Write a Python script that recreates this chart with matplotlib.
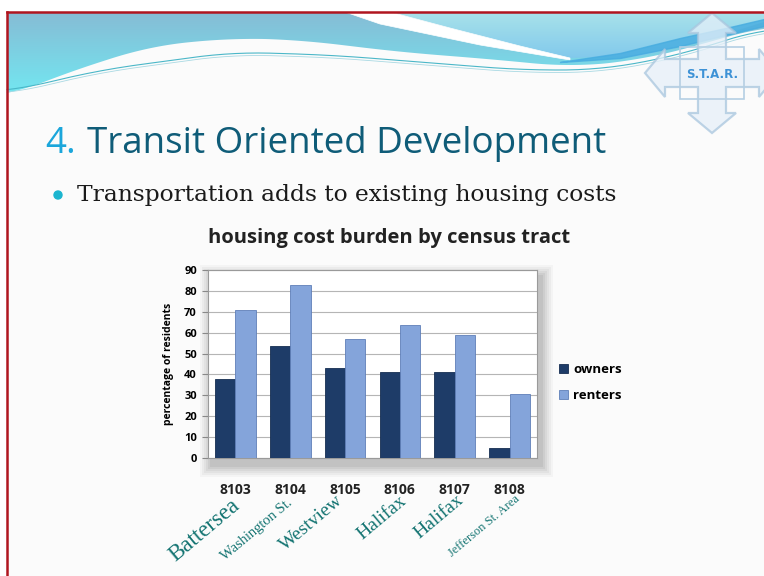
import numpy as np
import matplotlib
matplotlib.use("Agg")
import matplotlib.pyplot as plt
from matplotlib.patches import Polygon, Rectangle

tracts = ["8103", "8104", "8105", "8106", "8107", "8108"]
neighborhoods = ["Battersea", "Washington St.", "Westview", "Halifax", "Halifax", "Jefferson St. Area"]
owners = [38, 53.5, 43, 41, 41, 5]
renters = [71, 83, 57, 63.5, 59, 30.5]
yticks = [0, 10, 20, 30, 40, 50, 60, 70, 80, 90]

W, H = 764, 576
fig = plt.figure(figsize=(7.64, 5.76), dpi=100)
fig.patch.set_facecolor("white")

# ---- decoration layer (pixel coords) ----
bg = fig.add_axes([0, 0, 1, 1])
bg.set_xlim(0, W)
bg.set_ylim(H, 0)
bg.axis("off")
bg.add_patch(Rectangle((7, 12), W, H, facecolor="#fbfbfb", edgecolor="none", zorder=0))


def smooth(px, py, n=200):
    px = np.asarray(px, float)
    py = np.asarray(py, float)
    xs = np.linspace(px[0], px[-1], n)
    return xs, np.interp(xs, px, py)


def grad_fill(poly_x, poly_y, top_col, bot_col, z, x0=7, x1=W, y0=12, y1=100):
    poly = Polygon(np.column_stack([poly_x, poly_y]), closed=True, facecolor="none",
                   edgecolor="none", zorder=z)
    bg.add_patch(poly)
    c0 = np.array(matplotlib.colors.to_rgb(top_col))
    c1 = np.array(matplotlib.colors.to_rgb(bot_col))
    t = np.linspace(0, 1, 64)
    img = (c0[None, :] * (1 - t[:, None]) + c1[None, :] * t[:, None])[:, None, :]
    im = bg.imshow(img, extent=(x0, x1, y1, y0), aspect="auto", zorder=z,
                   interpolation="bilinear")
    im.set_clip_path(poly)


# left / main wave
lx, ly = smooth([7, 60, 150, 233, 300, 400, 500, 570, 640, 700, W],
                [97, 75, 46, 38, 40, 52, 60, 67, 60, 45, 26])
ly = np.convolve(np.pad(ly, 10, mode="edge"), np.ones(21) / 21, mode="valid")
px = np.concatenate([[7], lx, [W]])
py = np.concatenate([[12], ly, [12]])
grad_fill(px, py, "#86bcd5", "#72e8f2", 1, y0=12, y1=97)

# top-right light region above white streak
ux, uy = smooth([390, 450, 520, 570, 640, 700, W], [12, 28, 46, 58, 56, 42, 22])
px = np.concatenate([ux, [W]])
py = np.concatenate([uy, [12]])
grad_fill(px, py, "#a8e2ea", "#80c8ec", 3, y0=12, y1=60)

# white streak (wedge)
sx1, sy1 = smooth([345, 380, 480, 570], [12, 24, 45, 60])
sx2, sy2 = smooth([390, 450, 520, 570], [12, 28, 46, 58])
wx = np.concatenate([sx1, sx2[::-1]])
wy = np.concatenate([sy1, sy2[::-1]])
bg.add_patch(Polygon(np.column_stack([wx, wy]), closed=True, facecolor="white",
                     edgecolor="white", lw=0.5, zorder=4))

# darker blue band at right
bx, by1 = smooth([560, 620, 680, 730, W], [62, 58, 46, 34, 26])
_, by2 = smooth([560, 620, 680, 730, W], [62, 53, 38, 27, 19])
bg.fill_between(bx, by2, by1, color="#46ace0", alpha=0.8, zorder=5)

# thin wave lines
tx, ty = smooth([7, 100, 233, 330, 420, 520, 600, 680, W], [92, 70, 52, 55, 62, 70, 70, 55, 28])
ty = np.convolve(np.pad(ty, 10, mode="edge"), np.ones(21) / 21, mode="valid")
bg.plot(tx, ty, color="#4bb7c8", lw=0.8, zorder=5)
bg.plot(tx, ty + 2.5, color="#a9d9e3", lw=0.6, zorder=5)

# border
bg.plot([7, W], [12, 12], color="#b0151f", lw=1.8, zorder=8)
bg.plot([7, 7], [12, H], color="#b0151f", lw=1.8, zorder=8)

# STAR logo
cx, cy = 712, 73
ha_, hl, sw = 24, 20, 14      # head half width, head length, shaft half width
ev, eh = 60, 67               # extents vertical / horizontal
pts = [(cx, cy - ev), (cx + ha_, cy - ev + hl), (cx + sw, cy - ev + hl), (cx + sw, cy - sw),
       (cx + eh - hl, cy - sw), (cx + eh - hl, cy - ha_), (cx + eh, cy), (cx + eh - hl, cy + ha_),
       (cx + eh - hl, cy + sw), (cx + sw, cy + sw), (cx + sw, cy + ev - hl), (cx + ha_, cy + ev - hl),
       (cx, cy + ev), (cx - ha_, cy + ev - hl), (cx - sw, cy + ev - hl), (cx - sw, cy + sw),
       (cx - eh + hl, cy + sw), (cx - eh + hl, cy + ha_), (cx - eh, cy), (cx - eh + hl, cy - ha_),
       (cx - eh + hl, cy - sw), (cx - sw, cy - sw), (cx - sw, cy - ev + hl), (cx - ha_, cy - ev + hl)]
bg.add_patch(Polygon(pts, closed=True, facecolor="#e6f0f9", edgecolor="#a9c6de", lw=1.6,
                     alpha=0.75, zorder=6))
bg.add_patch(Rectangle((cx - 32, cy - 26), 64, 52, facecolor="none", edgecolor="#b5cfe3",
                       lw=1.2, zorder=6))
bg.text(cx, cy + 1, "S.T.A.R.", ha="center", va="center", fontsize=8.5, fontweight="bold",
        color="#3d92d6", family="DejaVu Sans Condensed", zorder=7)

# slide title
bg.text(45, 144, "4.", fontsize=26.5, color="#1ba6db", va="center", ha="left", family="Open Sans")
bg.text(87, 144, "Transit Oriented Development", fontsize=26.5, color="#0f5c78", va="center",
        ha="left", family="Open Sans")
bg.add_patch(plt.Circle((58, 195), 4, color="#1cb5cf", zorder=4))
bg.text(77, 195, "Transportation adds to existing housing costs", fontsize=16.8, color="#1a1a1a",
        va="center", ha="left", family="DejaVu Serif")

# chart title
bg.text(389, 238, "housing cost burden by census tract", fontsize=14.5, fontweight="bold",
        color="#222222", ha="center", va="center", family="Open Sans")

# shadow behind plot area
for i, al in enumerate([0.04, 0.05, 0.06, 0.07, 0.08, 0.09]):
    d = 12 - 2 * i
    bg.add_patch(Rectangle((208 - d + 4, 270 - d + 7), 329 + 2 * d, 188 + 2 * d,
                           facecolor="#555555", alpha=al, edgecolor="none", zorder=8))

# ---- chart ----
ax = fig.add_axes([208 / W, 1 - 458 / H, 329 / W, 188 / H])
ax.set_facecolor("white")
idx = np.arange(len(tracts))
bw = 0.37
ax.bar(idx - bw / 2, owners, width=bw, color="#1e3c68", edgecolor="#162e52", lw=0.6,
       label="owners", zorder=3)
ax.bar(idx + bw / 2, renters, width=bw, color="#84a4da", edgecolor="#5f7fb8", lw=0.6,
       label="renters", zorder=3)
ax.set_xlim(-0.5, len(tracts) - 0.5)
ax.set_ylim(0, 90)
ax.set_yticks(yticks)
ax.set_yticklabels([str(v) for v in yticks], fontsize=8, fontweight="bold", family="Open Sans")
ax.yaxis.grid(True, color="#b5b5b5", lw=0.8, zorder=0)
ax.tick_params(axis="y", length=4, color="#888888", pad=4)
ax.set_xticks(idx)
ax.set_xticklabels(tracts, fontsize=10, fontweight="bold", family="Open Sans", color="#222222")
ax.tick_params(axis="x", length=0, pad=18)
for s in ax.spines.values():
    s.set_color("#9a9a9a")
    s.set_linewidth(0.8)
ax.set_ylabel("percentage of residents", fontsize=7.5, fontweight="bold", family="Open Sans",
              labelpad=7)

leg = ax.legend(loc="center left", bbox_to_anchor=(1.03, 0.4), frameon=False,
                prop={"family": "Open Sans", "weight": "bold", "size": 9.5},
                handlelength=0.7, handleheight=0.7, labelspacing=1.0, handletextpad=0.4)

# neighborhood labels
sizes = [16.5, 10.5, 14, 14, 14, 9]
pos = [(204, 530), (257, 530), (311, 523), (382, 518), (439, 517), (484, 526)]
for name, s, (px_, py_) in zip(neighborhoods, sizes, pos):
    bg.text(px_, py_, name, fontsize=s, color="#147472", rotation=40, ha="center", va="center",
            family="Liberation Serif", zorder=9)

fig.savefig("out.png", dpi=100)
